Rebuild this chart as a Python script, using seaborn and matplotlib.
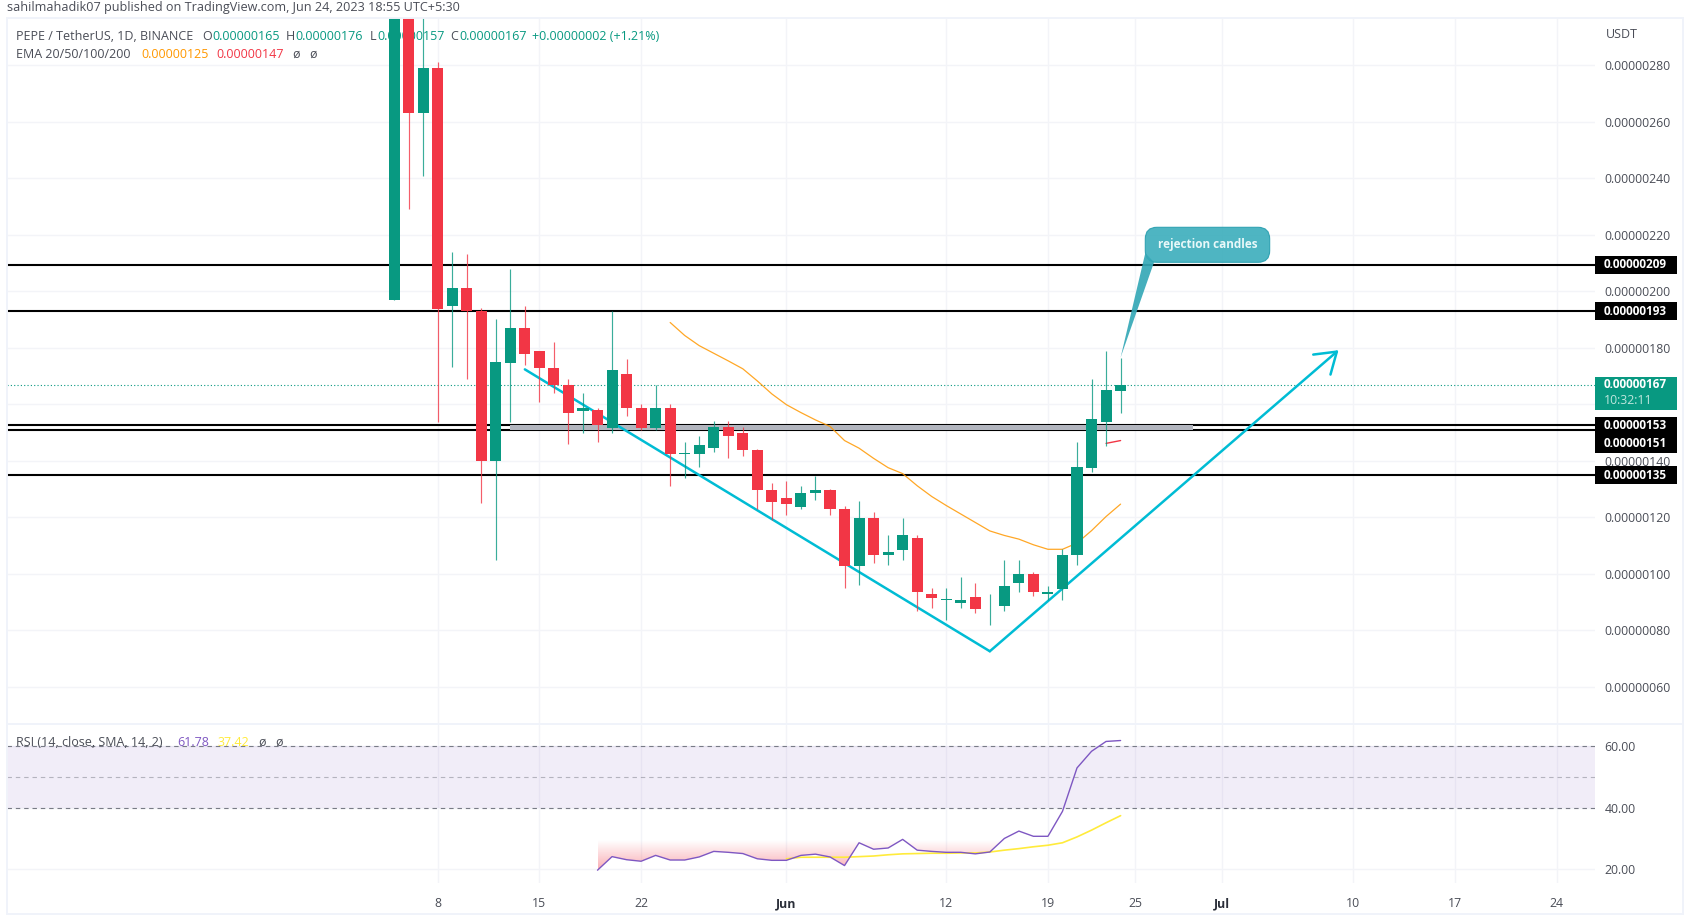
"""
PEPE / TetherUS daily candles with EMA + RSI panes (TradingView style)
"""
import numpy  as np
import pandas as pd
import matplotlib.pyplot as plt
import seaborn           as sns
from matplotlib.patches    import FancyBboxPatch, Polygon, Rectangle
from matplotlib.path       import Path
from matplotlib.transforms import IdentityTransform


# Prices are in units of 0.00000001 USDT, days are counted from May 8
DATES  = pd.date_range("2023-05-05", "2023-06-24")
OPENS  = [197.0, 330.0, 263.0, 279.2, 194.7, 201.1, 193.1, 139.8, 174.7, 186.9, 178.9, 173.0, 166.9,
          157.7, 158.0, 151.8, 170.8, 158.8, 151.8, 158.8, 142.6, 142.6, 144.6, 152.0, 149.9, 144.0, 129.7,
          127.0, 123.8, 128.8, 129.7, 123.0, 102.7, 119.8, 106.7, 108.6, 112.7, 92.8, 90.8,
          89.8, 91.7, 88.5, 88.5, 96.6, 99.8, 92.7, 94.7, 106.7, 137.6, 153.7, 164.8]
HIGHS  = [335.0, 335.0, 310.0, 281.1, 214.1, 213.3, 194.0, 190.2, 207.8, 194.9, 179.0, 182.0, 168.9,
          164.0, 158.9, 193.1, 176.1, 160.2, 166.8, 160.2, 146.7, 148.8, 154.0, 154.0, 152.0, 144.2, 132.0,
          132.9, 131.0, 134.8, 130.0, 124.0, 125.8, 121.8, 113.8, 119.9, 113.8, 94.9, 94.9,
          98.9, 96.8, 92.8, 104.8, 104.8, 100.6, 95.8, 108.7, 146.7, 169.0, 178.9, 176.3]
LOWS   = [197.0, 229.2, 241.0, 153.9, 173.2, 169.1, 125.0, 104.9, 153.9, 174.0, 161.0, 164.2, 145.9,
          150.0, 146.7, 150.0, 156.0, 151.0, 151.0, 131.2, 133.9, 138.0, 143.0, 141.0, 141.9, 123.0, 119.1,
          120.9, 123.1, 126.0, 120.9, 94.9, 95.9, 104.0, 103.0, 104.8, 87.0, 87.8, 83.7,
          87.8, 86.0, 82.0, 87.0, 93.6, 92.0, 90.8, 90.8, 103.0, 136.1, 145.1, 157.1]
CLOSES = [330.0, 263.0, 279.2, 193.8, 201.1, 192.9, 139.8, 174.9, 186.9, 177.8, 172.8, 166.7, 156.8,
          158.8, 152.7, 172.1, 158.7, 151.8, 158.8, 142.6, 142.8, 145.8, 152.0, 148.7, 143.8, 129.6, 125.6,
          124.7, 128.8, 129.7, 122.8, 102.7, 119.8, 106.7, 107.8, 113.7, 93.5, 91.6, 91.0,
          90.8, 87.6, 88.7, 95.8, 99.8, 93.5, 93.6, 106.8, 137.9, 154.7, 165.0, 166.9]

# EMA 20 starts May 24, EMA 50 only shows for the last two candles
EMA20_START = "2023-05-24"
EMA20       = [189.0, 184.4, 180.8, 178.1, 175.4, 172.6, 168.3, 163.7, 159.9, 157.1, 154.5, 152.2,
               147.2, 144.5, 140.9, 137.6, 135.5, 131.2, 127.4, 124.2, 121.2, 118.2, 115.2, 113.6,
               112.3, 110.3, 108.7, 108.7, 110.9, 115.3, 120.3, 124.7]
EMA50_DATES = ["2023-06-23", "2023-06-24"]
EMA50       = [146.2, 147.2]

# RSI starts May 19, its SMA starts Jun 1
RSI_START = "2023-05-19"
RSI       = [19.7, 24.1, 23.1, 22.6, 24.5, 23.0, 23.0, 24.0, 25.8, 25.5, 25.1, 23.4, 22.9, 22.9,
             24.5, 24.9, 24.0, 21.2, 28.6, 26.5, 26.9, 29.7, 26.2, 25.8, 25.5, 25.5, 25.0, 25.6,
             30.0, 32.4, 30.7, 30.7, 38.8, 52.9, 58.3, 61.5, 61.8]
SMA_START = "2023-06-01"
RSI_SMA   = [23.4, 23.9, 23.9, 23.9, 23.9, 24.1, 24.3, 24.7, 25.0, 25.1, 25.2, 25.2, 25.3, 25.3,
             25.6, 26.2, 26.7, 27.3, 27.8, 28.6, 30.5, 32.7, 35.1, 37.4]

# Drawn levels and the trend lines
LEVELS        = [209.5, 192.9, 152.8, 151, 135]
LEVEL_LABELS  = ["0.00000209", "0.00000193", "0.00000153", "0.00000151", "0.00000135"]
LAST_PRICE    = 167
ZONE_DATES    = ["2023-05-13", "2023-06-29"]
TREND_DATES   = ["2023-05-14", "2023-06-15", "2023-07-09"]
TREND_PRICES  = [172.4, 72.6, 179.2]

# Axis ticks
PRICE_TICKS = [60, 80, 100, 120, 140, 160, 180, 200, 220, 240, 260, 280]
RSI_TICKS   = [20, 40, 60]
TICK_DATES  = ["2023-05-08", "2023-05-15", "2023-05-22", "2023-06-01", "2023-06-12", "2023-06-19",
               "2023-06-25", "2023-07-01", "2023-07-10", "2023-07-17", "2023-07-24"]
TICK_LABELS = ["8", "15", "22", "Jun", "12", "19", "25", "Jul", "10", "17", "24"]

GREEN  = "#089981"
RED    = "#F23645"
ORANGE = "#FF9800"
PURPLE = "#7E57C2"
YELLOW = "#FFEB3B"
CYAN   = "#00BCD4"
GRID   = "#F3F4F8"
FRAME  = "#F0F3FA"
TEXT   = "#4A4D57"

FIG_W, FIG_H = 1692, 924


# ================================================================================
# Helpers
# ================================================================================
def to_day(date) -> float:
    return (pd.Timestamp(date) - pd.Timestamp("2023-05-08")).days


def pane(left, top, right, bottom):
    # Axes placed from image pixel edges
    return fig.add_axes([left / FIG_W, 1 - bottom / FIG_H, (right - left) / FIG_W, (bottom - top) / FIG_H])


def px_text(ax_or_fig, x, y, s, color=TEXT, size=9.0, **kw):
    # Text placed from image pixel positions
    return ax_or_fig.text(x, FIG_H - y, s, color=color, fontsize=size, va="center",
                          transform=IdentityTransform(), clip_on=False, **kw)


def price_tag(ax, price, label, shift=0):
    # Black value tag on the price scale, pinned to the level's height
    y = FIG_H - ax.transData.transform((0, price))[1] + shift
    fig.add_artist(Rectangle((1595.3, FIG_H - y - 9), 82, 18, transform=IdentityTransform(),
                             facecolor="black", edgecolor="none"))
    px_text(fig, 1604, y, label, color="white", size=8.5, fontweight="bold", zorder=5)


# ================================================================================
# Figure + panes
# ================================================================================
sns.set_theme(style="white")
plt.rcParams["font.family"] = ["Open Sans", "DejaVu Sans"]

fig     = plt.figure(figsize=(FIG_W / 100, FIG_H / 100), dpi=100, facecolor="white")
ax      = pane(7, 18, 1595.3, 723)
ax_rsi  = pane(7, 724.5, 1595.3, 883.3)

days       = np.array([to_day(d) for d in DATES])
tick_days  = [to_day(d) for d in TICK_DATES]
trend_days = [to_day(d) for d in TREND_DATES]

for a in (ax, ax_rsi):
    a.set_xlim(-29.64, 79.67)
    a.set_xticks(tick_days)
    a.grid(True, color=GRID, lw=1.0)
    a.set_axisbelow(True)
    a.patch.set_alpha(0)
    a.yaxis.tick_right()
    sns.despine(ax=a, left=True, bottom=True)
    a.tick_params(length=0, labelsize=8.8, labelcolor=TEXT, pad=6.5)
    a.spines["right"].set_visible(False)

ax.set_ylim(47.2, 296.8)
# The 160 label sits under the last price tag, so it is left blank
ax.set_yticks(PRICE_TICKS, ["" if p == 160 else f"{p / 1e8:.8f}" for p in PRICE_TICKS])
ax.tick_params(labelbottom=False)


# ================================================================================
# Price pane
# ================================================================================
# Levels and zone sit behind the candles
ax.axhline(LAST_PRICE, color=GREEN, lw=0.8, ls=(0, (1, 2)), zorder=1.5)
for level in LEVELS:
    ax.axhline(level, color="black", lw=1.5, zorder=1.6)
ax.fill_between([to_day(d) for d in ZONE_DATES], LEVELS[3], LEVELS[2], color="#B2B5BE", lw=0, zorder=1.7)

# Trend lines: one falling leg, one rising leg with an open arrow head
sns.lineplot(x=trend_days[:2], y=TREND_PRICES[:2], color=CYAN, lw=1.8, sort=False, estimator=None,
             legend=False, ax=ax, zorder=1.8)
ax.annotate("", xy=(trend_days[2], TREND_PRICES[2]), xytext=(trend_days[1], TREND_PRICES[1]), zorder=1.8,
            arrowprops=dict(arrowstyle="->,head_length=0.75,head_width=0.5", color=CYAN, lw=1.8,
                            shrinkA=0, shrinkB=0, mutation_scale=19))

# EMA lines
ema20_days = to_day(EMA20_START) + np.arange(len(EMA20))
sns.lineplot(x=ema20_days, y=EMA20, color=ORANGE, lw=0.9, alpha=0.85, legend=False, ax=ax, zorder=1.9)
sns.lineplot(x=[to_day(d) for d in EMA50_DATES], y=EMA50, color=RED, lw=1.0, legend=False, ax=ax, zorder=1.9)

# Candles
opens, closes = np.array(OPENS), np.array(CLOSES)
colors = [GREEN if c >= o else RED for o, c in zip(opens, closes)]
ax.vlines(days, LOWS, HIGHS, colors=colors, lw=0.85, alpha=0.8, zorder=3)
ax.bar(days, closes - opens, bottom=opens, width=0.76, color=colors, lw=0, zorder=3.1)

# Legend rows sit under the candles, which cut through the low value
legend_row_1 = [(16, "PEPE / TetherUS, 1D, BINANCE", TEXT), (202, "O", TEXT), (212, "0.00000165", GREEN),
                (286, "H", TEXT), (295, "0.00000176", GREEN), (369.5, "L", TEXT), (377, "0.00000157", GREEN),
                (450, "C", TEXT), (459, "0.00000167", GREEN), (532, "+0.00000002 (+1.21%)", GREEN)]
legend_row_2 = [(16, "EMA 20/50/100/200", TEXT), (141, "0.00000125", ORANGE), (216, "0.00000147", RED),
                (292, "ø", TEXT), (309, "ø", TEXT)]
for x, s, c in legend_row_1: px_text(ax, x, 36, s, color=c, zorder=2)
for x, s, c in legend_row_2: px_text(ax, x, 54, s, color=c, zorder=2)

# Callout box with its tail
box_x = (to_day("2023-06-25") + 0.7, 57.26)
box_y = (210.3, 222.7)
ax.add_patch(FancyBboxPatch((box_x[0], box_y[0]), box_x[1] - box_x[0], box_y[1] - box_y[0],
                            boxstyle="round,pad=0,rounding_size=0.8", mutation_aspect=5.14,
                            facecolor="#3FAFBD", edgecolor="#2A9FB0", lw=0.8, alpha=0.92, zorder=4))
ax.add_patch(Polygon([(48.7, 213.6), (49.3, 210.3), (47.0, 176.6)], closed=True,
                     facecolor="#35A8B7", edgecolor="none", alpha=0.92, zorder=4))
ax.text(np.mean(box_x), np.mean(box_y) + 0.2, "rejection candles", color="#E8F8F9", fontsize=8.5,
        fontweight="bold", ha="center", va="center", zorder=5)


# ================================================================================
# RSI pane
# ================================================================================
ax_rsi.set_ylim(15.44, 67.0)
ax_rsi.set_yticks(RSI_TICKS, [f"{v:.2f}" for v in RSI_TICKS])
ax_rsi.set_xticklabels(TICK_LABELS)
ax_rsi.tick_params(axis="x", labelcolor=TEXT, pad=10)
for label, text in zip(ax_rsi.get_xticklabels(), TICK_LABELS):
    if text in ("Jun", "Jul"):
        label.set_fontweight("bold")
        label.set_color("#2A2E39")

ax_rsi.axhspan(40, 60, color=PURPLE, alpha=0.1, lw=0)
ax_rsi.axhline(60, color="#787B86", lw=0.8, ls=(0, (4, 3.5)))
ax_rsi.axhline(50, color="#787B86", lw=0.8, ls=(0, (4, 3.5)), alpha=0.5)
ax_rsi.axhline(40, color="#787B86", lw=0.8, ls=(0, (4, 3.5)))

rsi_days = to_day(RSI_START) + np.arange(len(RSI))
rsi      = np.array(RSI)

# Oversold gradient, clipped to the area between the RSI line and 30
fill  = ax_rsi.fill_between(rsi_days, rsi, 30, where=rsi < 30, interpolate=True, color="none", lw=0)
shape = Path.make_compound_path(*fill.get_paths())
shade = np.zeros((64, 2, 4))
shade[..., :3] = (0.95, 0.21, 0.27)
shade[..., 3]  = np.linspace(0, 0.42, 64)[:, None]
image = ax_rsi.imshow(shade, extent=(rsi_days[0], rsi_days[-1], 19.5, 29.5), origin="upper",
                      aspect="auto", interpolation="bilinear", zorder=1.2)
image.set_clip_path(shape, transform=ax_rsi.transData)
ax_rsi.set_xlim(-29.64, 79.67)
ax_rsi.set_ylim(15.44, 67.0)

sma_days = to_day(SMA_START) + np.arange(len(RSI_SMA))
sns.lineplot(x=sma_days, y=RSI_SMA, color=YELLOW, lw=1.2, legend=False, ax=ax_rsi, zorder=2.5)
sns.lineplot(x=rsi_days, y=RSI, color=PURPLE, lw=1.0, legend=False, ax=ax_rsi, zorder=2.6)

for a in (ax, ax_rsi):
    a.set_xlabel("")
    a.set_ylabel("")

for x, s, c in [(16, "RSI (14, close, SMA, 14, 2)", TEXT), (177.5, "61.78", PURPLE), (218, "37.42", YELLOW),
                (258, "ø", TEXT), (275, "ø", TEXT)]:
    px_text(ax_rsi, x, 742, s, color=c, zorder=6)


# ================================================================================
# Frame, header and price scale tags
# ================================================================================
fig.add_artist(Rectangle((7, FIG_H - 914), 1676, 896, transform=IdentityTransform(),
                         facecolor="none", edgecolor=FRAME, lw=1.4))
fig.add_artist(Rectangle((7, FIG_H - 724.5), 1676, 1.8, transform=IdentityTransform(),
                         facecolor=FRAME, edgecolor="none"))

px_text(fig, 7, 7, "sahilmahadik07 published on TradingView.com, Jun 24, 2023 18:55 UTC+5:30", size=9.1)
px_text(fig, 1606, 34, "USDT")

price_tag(ax, LEVELS[0], LEVEL_LABELS[0])
price_tag(ax, LEVELS[1], LEVEL_LABELS[1])
price_tag(ax, LEVELS[2], LEVEL_LABELS[2], shift=1.2)
price_tag(ax, LEVELS[3], LEVEL_LABELS[3], shift=14.0)
price_tag(ax, LEVELS[4], LEVEL_LABELS[4])

# Last price tag carries the candle countdown
y_last = FIG_H - ax.transData.transform((0, LAST_PRICE))[1]
fig.add_artist(Rectangle((1595.3, FIG_H - y_last + 8), 82, -33.5, transform=IdentityTransform(),
                         facecolor=GREEN, edgecolor="none"))
px_text(fig, 1604, y_last, "0.00000167", color="white", size=8.5, fontweight="bold", zorder=5)
px_text(fig, 1604, y_last + 16, "10:32:11", color="#BFE6DD", size=8.8, zorder=5)

fig.savefig("out.png", dpi=100)
